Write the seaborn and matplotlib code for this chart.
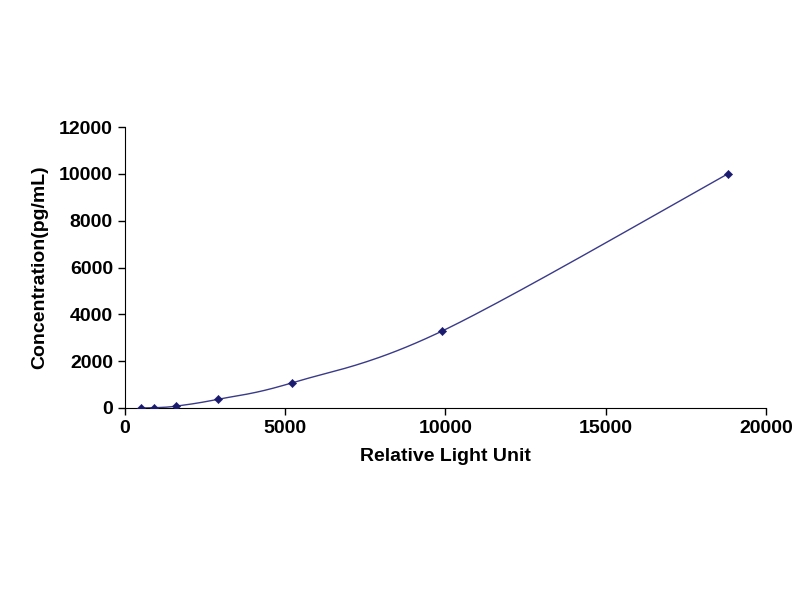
import numpy as np
import matplotlib
matplotlib.use("Agg")
import matplotlib.pyplot as plt
import seaborn as sns

rlu = [500, 900, 1600, 2900, 5200, 9900, 18800]
conc = [0, 10, 80, 370, 1070, 3290, 10000]

sns.set_style("white")
plt.rcParams['font.family'] = ['Liberation Sans', 'DejaVu Sans']
plt.rcParams['text.color'] = 'black'
plt.rcParams['axes.labelcolor'] = 'black'
plt.rcParams['xtick.color'] = 'black'
plt.rcParams['ytick.color'] = 'black'

fig = plt.figure(figsize=(8, 6), dpi=100)
ax = fig.add_axes([0.156, 0.32, 0.8015, 0.468])

x = np.array(rlu, float); y = np.array(conc, float)
xs, ys = [], []
for i in range(len(x) - 1):
    p0 = i - 1 if i > 0 else i
    p3 = i + 2 if i + 2 < len(x) else i + 1
    m1x = (x[i+1] - x[p0]) / 2; m1y = (y[i+1] - y[p0]) / 2
    m2x = (x[p3] - x[i]) / 2; m2y = (y[p3] - y[i]) / 2
    t = np.linspace(0, 1, 40)
    h00 = 2*t**3 - 3*t**2 + 1; h10 = t**3 - 2*t**2 + t
    h01 = -2*t**3 + 3*t**2; h11 = t**3 - t**2
    xs.append(h00*x[i] + h10*m1x + h01*x[i+1] + h11*m2x)
    ys.append(h00*y[i] + h10*m1y + h01*y[i+1] + h11*m2y)
ax.plot(np.concatenate(xs), np.concatenate(ys), color='#3a3a8a', lw=1)
sns.scatterplot(x=rlu, y=conc, ax=ax, marker='D', s=18, color='#1a1a6e', edgecolor='#1a1a6e', zorder=3)

ax.set_xlim(0, 20000)
ax.set_ylim(0, 12000)
ax.set_xticks(range(0, 20001, 5000))
ax.set_yticks(range(0, 12001, 2000))
for s in ['top', 'right']:
    ax.spines[s].set_visible(False)
for s in ['left', 'bottom']:
    ax.spines[s].set_color('black')
ax.tick_params(direction='out', length=5, color='black', labelcolor='black', labelsize=14, width=1, left=True, bottom=True)
for lab in ax.get_xticklabels() + ax.get_yticklabels():
    lab.set_fontweight('bold')
ax.set_xlabel('Relative Light Unit', fontsize=14, fontweight='bold', labelpad=8, color='black')
ax.set_ylabel('Concentration(pg/mL)', fontsize=14, fontweight='bold', labelpad=8, color='black')
fig.savefig('out.png', dpi=100)
